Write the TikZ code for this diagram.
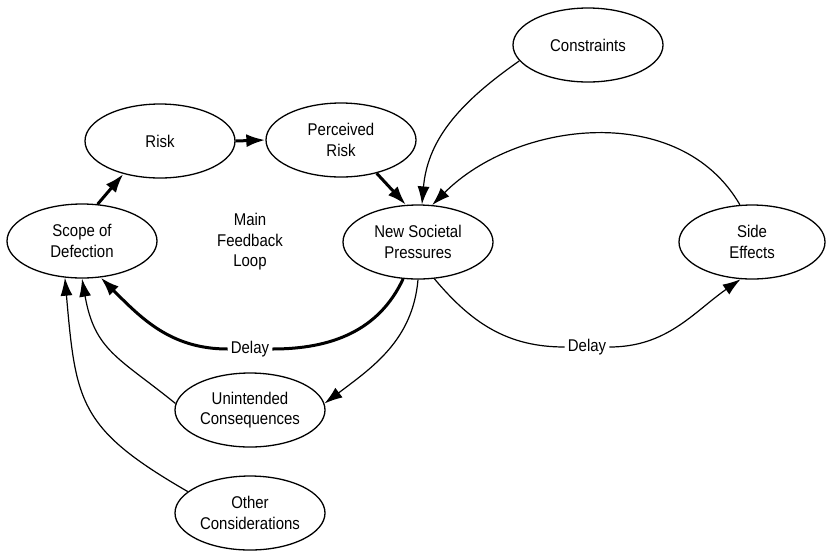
\documentclass[tikz,border=0pt]{standalone}
\usepackage{fontspec}
\setmainfont{Liberation Sans}[FakeStretch=0.88]
\usetikzlibrary{arrows.meta,shapes.geometric}
\begin{document}
\begin{tikzpicture}[x=1pt,y=1pt,
  box/.style={ellipse,draw,line width=1.3pt,minimum width=150pt,minimum height=74pt,inner sep=0pt,align=center,
    font=\fontsize{17}{20.5}\selectfont},
  lbl/.style={align=center,inner sep=3pt,font=\fontsize{17}{20.5}\selectfont},
  thin/.style={line width=1.2pt,-{Latex[length=18pt,width=12pt]}},
  thick/.style={line width=3pt,-{Latex[length=19pt,width=13pt]}},
  thickplain/.style={line width=3pt}]
\useasboundingbox (0,0) rectangle (826,-550);
\node[box] (scope) at (82,-241) {Scope of\\Defection};
\node[box] (risk) at (160,-141) {Risk};
\node[box] (pr) at (341,-140) {Perceived\\Risk};
\node[box] (nsp) at (418,-242) {New Societal\\Pressures};
\node[box] (con) at (588,-45) {Constraints};
\node[box,minimum width=146pt] (side) at (752,-242) {Side\\Effects};
\node[box] (unint) at (250,-410) {Unintended\\Consequences};
\node[box] (other) at (250,-513) {Other\\Considerations};
\node[lbl] (mfl) at (250,-242) {Main\\Feedback\\Loop};
\node[lbl] (delay1) at (250,-349) {Delay};
\node[lbl] (delay2) at (587,-347) {Delay};

\draw[thick] (scope.67) -- (risk.222);
\draw[thick] (risk.east) -- (pr.west);
\draw[thick] (pr.317) -- (nsp.108);
\draw[thin] (con.193) to[out=215,in=85] (nsp.84);
\draw[thin] (side.108) to[out=120,in=45] (nsp.69);
\draw[thickplain] (nsp.248) to[out=245,in=0] (delay1.east);
\draw[thick] (delay1.west) to[out=180,in=-45] (scope.297);
\draw[thin] (nsp.270) to[out=265,in=37] (unint.5);
\draw (nsp.294) [line width=1.2pt] to[out=-50,in=180] (delay2.west);
\draw[thin] (delay2.east) to[out=0,in=215] (side.253);
\draw[thin] (unint.175) to[out=141,in=-80,looseness=1.2] (scope.270);
\draw[thin] (other.161) to[out=150,in=-85,looseness=1.3] (scope.245);
\end{tikzpicture}
\end{document}
